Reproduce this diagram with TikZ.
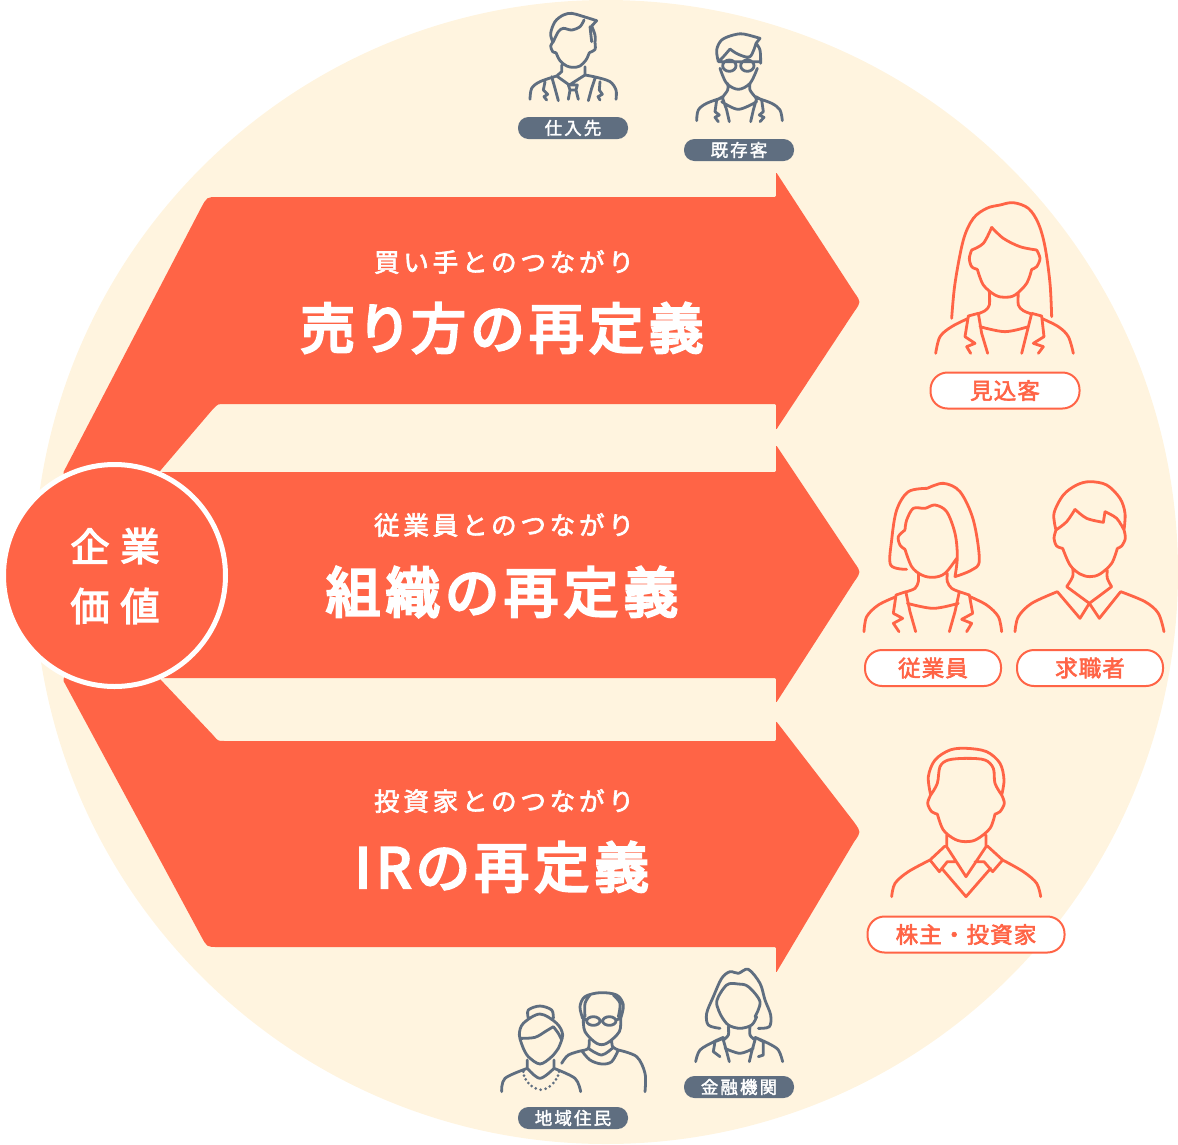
\documentclass[tikz,border=0pt]{standalone}
\usepackage{fontspec}
\setmainfont{Noto Sans CJK JP}
\definecolor{orng}{HTML}{FF6446}
\definecolor{crm}{HTML}{FFF4DF}
\definecolor{gry}{HTML}{5F6E80}
\newcommand\cv[1]{plot[smooth,tension=0.55] coordinates {#1}}
\tikzset{
  ico/.style={line width=2.8pt,line cap=round,line join=round,fill=none},
  icog/.style={ico,draw=gry},
  icoo/.style={ico,draw=orng},
  zf/.style={x=0.33333pt,y=-0.33333pt},
  arrowshape/.style={fill=orng,rounded corners=1.2pt},
  graybadge/.style={fill=gry,text=white,rounded corners=10.5pt,minimum width=110pt,minimum height=22pt,inner sep=0pt,font=\fontsize{17.5}{17.5}\selectfont\addfontfeature{LetterSpace=12,FakeBold=2}},
  orngbadge/.style={draw=orng,line width=2pt,fill=white,text=orng,rounded corners=17pt,minimum height=36pt,inner sep=0pt,font=\fontsize{22.5}{22.5}\selectfont\addfontfeature{LetterSpace=5,FakeBold=2.5}},
  subtitle/.style={text=white,inner sep=0pt,font=\fontsize{25.5}{25.5}\selectfont\addfontfeature{LetterSpace=15,FakeBold=2.5}},
  maintitle/.style={text=white,inner sep=0pt,font=\fontsize{54.5}{54.5}\selectfont\addfontfeature{LetterSpace=10,RawFeature=+palt,FakeBold=5}},
  corechar/.style={text=white,inner sep=0pt,font=\fontsize{39}{39}\selectfont\addfontfeature{FakeBold=3.5}}
}
\begin{document}
\begin{tikzpicture}[x=1pt,y=-1pt]
\useasboundingbox (0,0) rectangle (1178,1144);
\fill[crm] (606,572) circle[radius=572];
% arrows
\fill[arrowshape] (63,473) -- (201,208) .. controls (207,197) .. (219,197) -- (776,197) -- (776,172) -- (854,292) .. controls (861,302) .. (854,312) -- (776,430) -- (776,404) -- (226,404) .. controls (218,404) .. (213,409) -- (160,471) -- (116,575) -- cycle;
\fill[arrowshape] (116,472) -- (776,472) -- (776,445) -- (854,562) .. controls (861,572) .. (854,582) -- (776,703) -- (776,678) -- (116,678) -- cycle;
\fill[arrowshape] (63,680) -- (201,936) .. controls (207,947) .. (219,947) -- (776,947) -- (776,973) -- (854,842) .. controls (861,832) .. (854,822) -- (776,721) -- (776,741) -- (226,741) .. controls (218,741) .. (213,735) -- (160,679) -- (116,575) -- cycle;
% core
\node[circle,fill=orng,draw=white,line width=5pt,minimum size=222pt,inner sep=0pt] (core) at (114.5,575.5) {};
\node[corechar] (c1) at (90,546) {企};
\node[corechar] (c2) at (140,546) {業};
\node[corechar] (c3) at (90,606) {価};
\node[corechar] (c4) at (140,606) {値};
% titles
\node[subtitle] (s1) at (504,262) {買い手とのつながり};
\node[maintitle] (t1) at (502,328) {売り方の再定義};
\node[subtitle] (s2) at (504,525) {従業員とのつながり};
\node[maintitle] (t2) at (502,592) {組織の再定義};
\node[subtitle] (s3) at (504,801) {投資家とのつながり};
\node[maintitle] (t3) at (502,867) {IRの再定義};
% badges
\node[graybadge] (b1) at (573,128) {仕入先};
\node[graybadge] (b2) at (739,150) {既存客};
\node[graybadge] (b3) at (573,1118) {地域住民};
\node[graybadge] (b4) at (739,1087) {金融機関};
\node[orngbadge,minimum width=149pt] (o1) at (1005,390.5) {見込客};
\node[orngbadge,minimum width=136pt] (o2) at (933,668) {従業員};
\node[orngbadge,minimum width=146pt] (o3) at (1090,668) {求職者};
\node[orngbadge,minimum width=197pt] (o4) at (966,934.5) {株主・投資家};
% gray icons, top
\begin{scope}[shift={(500,0)},zf]
\draw[icog] \cv{(158,125)(152,100)(165,65)(190,45)(215,40)(245,48)(290,62)} -- (275,78) \cv{(275,78)(285,105)(285,128)}
 \cv{(160,125)(175,95)(190,85)(215,90)(240,80)(252,60)} \cv{(270,80)(275,125)}
 \cv{(160,125)(152,138)(158,155)(168,158)} \cv{(168,158)(180,182)(200,198)(220,202)(240,198)(258,180)(268,158)} \cv{(268,158)(285,148)(285,128)}
 (185,195) -- (185,215) -- (170,228) -- (208,255) -- (255,225) -- (255,200) (170,228)
 \cv{(90,298)(95,265)(120,245)(170,228)} \cv{(255,225)(290,232)(330,245)(348,270)(348,298)}
 (205,255) -- (232,255) -- (228,270) -- (210,270) -- cycle (210,270) -- (205,298) (228,270) -- (235,298)
 (155,230) -- (165,265) -- (175,302) (285,235) -- (275,265) -- (265,302)
 (135,245) -- (130,270) -- (143,283) -- (132,290) -- (140,300) (300,245) -- (298,270) -- (307,283) -- (294,290) -- (300,300);
\draw[icog] \cv{(655,185)(650,150)(665,120)(700,105)(730,102)(780,115)} -- (768,130) \cv{(768,130)(780,150)(782,190)}
 \cv{(660,180)(672,168)(690,147)} \cv{(690,147)(715,163)(750,170)(768,130)}
 (688,197) ellipse[x radius=20,y radius=17] (742,197) ellipse[x radius=20,y radius=17]
 (655,185) -- (782,185)
 \cv{(660,205)(680,250)(715,268)(750,250)(772,205)}
 \cv{(683,250)(683,270)(670,288)} \cv{(750,250)(750,270)(765,290)}
 \cv{(590,362)(595,330)(620,310)(670,292)} \cv{(765,292)(815,310)(840,330)(847,362)}
 \cv{(665,305)(715,328)(770,305)}
 (668,290) -- (650,300) -- (645,335) -- (658,345) -- (645,352) -- (655,365)
 (668,295) -- (680,330) -- (688,365)
 (770,295) -- (760,330) -- (752,365)
 (768,290) -- (785,300) -- (790,335) -- (778,345) -- (792,352) -- (780,365);
\end{scope}
% long hair woman
\begin{scope}[shift={(900,190)},zf]
\draw[icoo] \cv{(155,385)(165,280)(190,150)(220,85)(260,55)(300,45)(340,38)(385,55)(415,100)(435,170)(450,280)(455,380)}
 \cv{(215,180)(250,160)(275,112)} \cv{(275,112)(310,145)(360,170)(410,180)}
 \cv{(215,180)(208,205)(215,230)(232,238)} \cv{(410,180)(420,205)(410,230)(395,238)}
 \cv{(232,238)(250,285)(285,315)(315,322)(345,315)(380,280)(395,238)}
 \cv{(268,305)(268,345)(255,362)(232,372)} \cv{(355,310)(355,345)(370,362)(395,372)}
 \cv{(107,490)(120,440)(155,410)(205,385)} \cv{(425,385)(475,410)(505,440)(520,490)}
 (235,370) -- (205,378) -- (195,440) -- (225,460) -- (200,470) -- (212,490)
 (235,370) -- (245,430) -- (263,490)
 (395,370) -- (425,378) -- (432,440) -- (400,460) -- (430,470) -- (415,490)
 (395,370) -- (380,430) -- (365,490)
 \cv{(240,410)(315,425)(385,410)};
\end{scope}
% middle pair
\begin{scope}[shift={(850,470)},zf]
\draw[icoo] \cv{(170,298)(122,285)(125,210)(140,120)(175,65)(232,55)} \cv{(232,55)(280,40)(330,65)(370,150)(388,270)(365,300)(315,320)} \cv{(315,320)(322,260)(315,190)(290,125)(255,105)(225,115)(190,115)(170,150)(165,180)}
 \cv{(165,180)(145,200)(150,225)(165,238)} \cv{(165,238)(185,290)(215,315)(250,322)(285,310)(320,265)}
 \cv{(205,310)(205,335)(195,355)(170,365)} \cv{(292,310)(292,335)(305,355)(328,365)}
 \cv{(42,485)(50,440)(85,405)(138,380)} \cv{(360,380)(410,405)(445,440)(455,485)}
 (168,365) -- (138,375) -- (130,430) -- (158,445) -- (130,460) -- (147,485)
 (168,368) -- (180,425) -- (197,485)
 (328,365) -- (358,375) -- (368,430) -- (335,448) -- (365,460) -- (350,485)
 (328,365) -- (315,425) -- (298,485)
 \cv{(172,400)(250,415)(325,400)};
\draw[icoo] \cv{(618,180)(612,130)(640,75)(680,45)(720,35)(770,45)(810,85)(825,130)(822,180)}
 \cv{(618,180)(650,155)(675,118)} \cv{(675,118)(710,145)(760,157)} -- (765,125) \cv{(765,125)(800,145)(822,180)}
 \cv{(618,180)(612,205)(620,228)(638,235)} \cv{(822,180)(826,205)(815,228)(802,235)}
 \cv{(638,235)(660,285)(690,312)(720,320)(750,312)(785,280)(802,235)}
 \cv{(668,295)(668,320)(650,350)} \cv{(772,300)(772,325)(785,350)}
 (650,350) -- (718,400) -- (785,350)
 (622,365) -- (690,445) -- (718,400) -- (748,445) -- (812,365)
 \cv{(495,485)(505,440)(545,400)(622,365)} \cv{(812,365)(885,395)(925,430)(942,485)};
\end{scope}
% man, lower right
\begin{scope}[shift={(860,740)},zf]
\draw[icoo] \cv{(212,165)(205,110)(225,60)(270,30)(320,25)(380,35)(420,70)(432,120)(425,165)}
 \cv{(212,165)(232,130)(240,80)(265,60)(320,55)(375,60)(400,85)(405,130)(425,165)}
 \cv{(212,165)(203,190)(215,215)(232,222)} \cv{(425,165)(433,190)(420,215)(405,222)}
 \cv{(232,222)(250,270)(285,298)(318,305)(350,298)(390,265)(405,222)}
 (260,285) -- (260,320) -- (318,410) -- (378,320) -- (378,285)
 (255,318) -- (210,360) -- (238,395) -- (262,365) -- (290,365) (345,365) -- (372,365) -- (398,395) -- (428,360) -- (382,318)
 (245,385) -- (318,470) -- (392,385)
 \cv{(95,470)(105,430)(145,395)(210,360)} \cv{(428,360)(490,395)(530,430)(542,470)};
\end{scope}
% gray icons, bottom
\begin{scope}[shift={(490,960)},zf]
\draw[icog] \cv{(115,175)(115,150)(150,138)(185,150)(190,175)}
 \cv{(100,265)(88,225)(100,190)(150,162)(200,190)(218,225)(205,265)}
 \cv{(92,235)(135,232)(170,212)(190,200)} \cv{(190,200)(205,220)(215,240)}
 \cv{(100,265)(115,290)(150,312)(185,290)(205,265)}
 (112,300) -- (112,325) (192,300) -- (192,325)
 \cv{(112,325)(150,355)(192,325)}
 \cv{(35,395)(45,355)(112,325)} \cv{(192,325)(255,355)(272,395)};
\foreach \px/\py in {100/335,102/347,107/358,115/369,125/378,137/385,152/389,167/386,179/379,190/369,198/358,204/347,207/335}
  \fill[gry] (\px,\py) circle[radius=1.5pt];
\draw[icog] \cv{(278,175)(270,140)(285,110)(330,98)(380,105)(400,135)(392,175)}
 \cv{(285,170)(285,130)(300,105)} \cv{(385,170)(390,130)(370,105)}
 (310,183) ellipse[x radius=20,y radius=13] (358,183) ellipse[x radius=20,y radius=13]
 (330,183) -- (338,183) (278,175) -- (290,180) (378,180) -- (392,175)
 \cv{(280,175)(285,215)(320,250)(350,250)(388,215)(392,175)}
 \cv{(298,240)(295,265)(275,272)} \cv{(275,272)(300,300)(335,312)(365,305)(385,270)} \cv{(385,270)(368,260)(365,240)}
 \cv{(295,265)(335,285)(370,262)}
 \cv{(215,310)(235,285)(275,272)} \cv{(385,270)(440,290)(465,340)(465,395)};
\draw[icog] \cv{(690,205)(655,195)(650,160)(670,110)(695,55)(720,35)(745,40)(775,28)(810,70)(825,120)(842,165)(838,200)(805,205)}
 \cv{(695,170)(680,125)(710,75)(745,72)(775,80)(810,125)(795,170)}
 \cv{(695,170)(715,195)(750,205)(785,195)(800,170)}
 \cv{(715,200)(715,225)(700,240)} \cv{(780,200)(780,225)(795,240)}
 \cv{(617,305)(630,270)(672,245)(700,232)} \cv{(795,232)(835,250)(865,270)(878,305)}
 (700,235) -- (675,245) -- (670,275) -- (690,290)
 (700,240) -- (710,275) -- (718,305)
 (795,232) -- (820,245) -- (820,285) -- (805,290)
 (795,240) -- (785,275) -- (778,305)
 \cv{(705,265)(750,280)(790,265)};
\end{scope}
\end{tikzpicture}
\end{document}
